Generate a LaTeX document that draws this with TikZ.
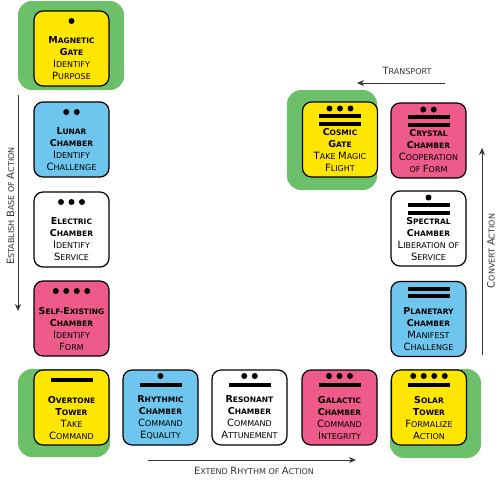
\documentclass[tikz,border=0pt]{standalone}
\usepackage{fontspec}
\setmainfont{DejaVu Sans}
\usetikzlibrary{calc,arrows.meta}
\definecolor{tyellow}{HTML}{FFE600}
\definecolor{tgreen}{HTML}{6CC06A}
\definecolor{tblue}{HTML}{6EC6EE}
\definecolor{tpink}{HTML}{EE5A8A}
\definecolor{tgray}{HTML}{333333}
\newcommand\Cp[1]{{\fontsize{10}{12}\selectfont #1}}
\newcommand\Cb[1]{{\fontsize{9.5}{12}\selectfont #1}}
\newcommand\Sc[2]{\Cp{#1}\MakeUppercase{#2}}
\newcommand\Sb[2]{\Cb{#1}\MakeUppercase{#2}}
\tikzset{
  tilebox/.style={draw=black, line width=1.2pt, rounded corners=9pt, minimum width=75pt, minimum height=75pt, outer sep=0pt, inner sep=0pt},
  tiletext/.style={inner sep=0pt, align=center, font=\fontsize{8}{12}\selectfont, anchor=north},
  greenbg/.style={fill=tgreen, rounded corners=14pt},
  arr/.style={draw=tgray, line width=0.9pt, -{Stealth[length=7pt,width=6pt]}},
  lbl/.style={text=tgray, inner sep=0pt, font=\fontsize{8}{12}\selectfont}
}
\newcommand\tile[8]{%
  \node[tilebox, fill=#4] (#1) at (#2,#3) {};
  \node[tiletext] (#1-t) at ($(#1.north)+(0,25.8)$) {{\bfseries\fontsize{7.5}{12}\selectfont #5}\\{\bfseries\fontsize{7.5}{12}\selectfont #6}\\#7\\#8};
}
\newcommand\tdots[3]{\foreach \k in {1,...,#2}{\fill ($(#1.north)+({(\k-(#2+1)/2)*10.5},#3)$) circle (3pt);}}
\newcommand\tbar[2]{\fill ($(#1.north)+(-21,#2-2)$) rectangle ($(#1.north)+(21,#2+2)$);}
\begin{document}
\begin{tikzpicture}[x=1pt,y=-1pt]
\useasboundingbox (0,0) rectangle (500,480);
% green backgrounds
\fill[greenbg] (18,1) rectangle (124,90);
\fill[greenbg] (287,90) rectangle (377,190);
\fill[greenbg] (18,369) rectangle (110,457);
\fill[greenbg] (390,369) rectangle (481,458);
% left column
\tile{magnetic}{71.5}{48.5}{tyellow}{\Sb{M}{agnetic}}{\Sb{G}{ate}}{\Sc{I}{dentify}}{\Sc{P}{urpose}}
\tdots{magnetic}{1}{10}
\tile{lunar}{71.5}{139.5}{tblue}{\Sb{L}{unar}}{\Sb{C}{hamber}}{\Sc{I}{dentify}}{\Sc{C}{hallenge}}
\tdots{lunar}{2}{10}
\tile{electric}{71.5}{229.5}{white}{\Sb{E}{lectric}}{\Sb{C}{hamber}}{\Sc{I}{dentify}}{\Sc{S}{ervice}}
\tdots{electric}{3}{10}
\tile{selfex}{71.5}{318.5}{tpink}{\Sb{S}{elf-}\Sb{E}{xisting}}{\Sb{C}{hamber}}{\Sc{I}{dentify}}{\Sc{F}{orm}}
\tdots{selfex}{4}{10}
\tile{overtone}{71.5}{407.5}{tyellow}{\Sb{O}{vertone}}{\Sb{T}{ower}}{\Sc{T}{ake}}{\Sc{C}{ommand}}
\tbar{overtone}{10}
% bottom row
\tile{rhythmic}{160.5}{407.5}{tblue}{\Sb{R}{hythmic}}{\Sb{C}{hamber}}{\Sc{C}{ommand}}{\Sc{E}{quality}}
\tdots{rhythmic}{1}{6}\tbar{rhythmic}{15}
\tile{resonant}{249.5}{407.5}{white}{\Sb{R}{esonant}}{\Sb{C}{hamber}}{\Sc{C}{ommand}}{\Sc{A}{ttunement}}
\tdots{resonant}{2}{6}\tbar{resonant}{15}
\tile{galactic}{339.5}{407.5}{tpink}{\Sb{G}{alactic}}{\Sb{C}{hamber}}{\Sc{C}{ommand}}{\Sc{I}{ntegrity}}
\tdots{galactic}{3}{6}\tbar{galactic}{15}
\tile{solar}{429}{407.5}{tyellow}{\Sb{S}{olar}}{\Sb{T}{ower}}{\Sc{F}{ormalize}}{\Sc{A}{ction}}
\tdots{solar}{4}{6}\tbar{solar}{15}
% right column
\tile{planetary}{428.5}{319}{tblue}{\Sb{P}{lanetary}}{\Sb{C}{hamber}}{\Sc{M}{anifest}}{\Sc{C}{hallenge}}
\tbar{planetary}{7}\tbar{planetary}{14.5}
\tile{spectral}{428.5}{228.5}{white}{\Sb{S}{pectral}}{\Sb{C}{hamber}}{\Sc{L}{iberation} \MakeUppercase{of}}{\Sc{S}{ervice}}
\tdots{spectral}{1}{6.5}\tbar{spectral}{14}\tbar{spectral}{21.5}
\tile{crystal}{428.5}{140.5}{tpink}{\Sb{C}{rystal}}{\Sb{C}{hamber}}{\Sc{C}{ooperation}}{\MakeUppercase{of} \Sc{F}{orm}}
\tdots{crystal}{2}{6.5}\tbar{crystal}{14}\tbar{crystal}{21.5}
\tile{cosmic}{340}{139.5}{tyellow}{\Sb{C}{osmic}}{\Sb{G}{ate}}{\Sc{T}{ake} \Sc{M}{agic}}{\Sc{F}{light}}
\tdots{cosmic}{3}{6.5}\tbar{cosmic}{14}\tbar{cosmic}{21.5}
% arrows
\coordinate (ebA) at (18,95); \coordinate (ebB) at (18,311);
\draw[arr] (ebA) -- (ebB);
\node[lbl, rotate=90] (eblbl) at (10.5,206) {\Sc{E}{stablish} \Sc{B}{ase} \MakeUppercase{of} \Sc{A}{ction}};
\coordinate (erA) at (148,460); \coordinate (erB) at (356,460);
\draw[arr] (erA) -- (erB);
\node[lbl] (erlbl) at (254,471) {\Sc{E}{xtend} \Sc{R}{hythm} \MakeUppercase{of} \Sc{A}{ction}};
\coordinate (caA) at (482,355); \coordinate (caB) at (482,148);
\draw[arr] (caA) -- (caB);
\node[lbl, rotate=90] (calbl) at (491,251) {\Sc{C}{onvert} \Sc{A}{ction}};
\coordinate (trA) at (445,83); \coordinate (trB) at (357,83);
\draw[arr] (trA) -- (trB);
\node[lbl] (trlbl) at (407,71) {\Sc{T}{ransport}};
\end{tikzpicture}
\end{document}
